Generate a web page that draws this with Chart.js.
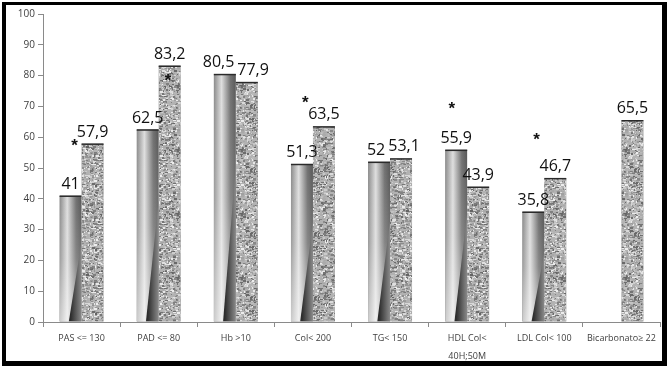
<!DOCTYPE html>
<html>
<head>
<meta charset="utf-8">
<script src="https://cdn.jsdelivr.net/npm/chart.js@4/dist/chart.umd.min.js"></script>
<style>
  body { margin: 0; background: #fff; }
  #wrap { position: relative; width: 668px; height: 366px; overflow: hidden; }
  #chart { position: absolute; left: 0; top: 0; }
  #frame {
    position: absolute; left: 2px; top: 2px; width: 665px; height: 364px;
    box-sizing: border-box; pointer-events: none;
    border-left: 4px solid #000; border-top: 3px solid #000;
    border-right: 5px solid #000; border-bottom: 5px solid #000;
  }
</style>
</head>
<body>
<div id="wrap">
  <canvas id="chart" width="668" height="366"></canvas>
  <div id="frame"></div>
</div>
<script>
// categorias del eje x
const categories = ["PAS <= 130", "PAD <= 80", "Hb >10", "Col< 200", "TG< 150", ["HDL Col<", "40H;50M"], "LDL Col< 100", "Bicarbonato\u2265 22"];
// serie 1 (degradado) y serie 2 (granito)
const serie1 = [41, 62.5, 80.5, 51.3, 52, 55.9, 35.8, null];
const serie2 = [57.9, 83.2, 77.9, 63.5, 53.1, 43.9, 46.7, 65.5];
// asteriscos: altura (en % del eje) y corrimiento (fraccion del ancho de categoria)
const asteriscoY = [58.8, 79.9, null, 72.7, null, 70.8, 60.7, null];
const asteriscoDx = [-0.09, 0.12, 0, -0.1, 0, -0.2, -0.1, 0];
const yTicks = [0, 10, 20, 30, 40, 50, 60, 70, 80, 90, 100];

// textura granito (pseudoaleatorio con semilla fija, solo para la textura)
let seed = 12345;
const rnd = () => (seed = (seed * 16807) % 2147483647) / 2147483647;
const tex = document.createElement('canvas');
tex.width = 64; tex.height = 64;
const tg = tex.getContext('2d');
tg.fillStyle = '#b2b2b2';
tg.fillRect(0, 0, 64, 64);
for (let i = 0; i < 1500; i++) {
  const v = Math.floor(100 + rnd() * 140);
  tg.fillStyle = `rgb(${v},${v},${v})`;
  tg.fillRect(Math.floor(rnd() * 64), Math.floor(rnd() * 64), 1 + Math.floor(rnd() * 3), 1 + Math.floor(rnd() * 2));
}

const ctxChart = document.getElementById('chart').getContext('2d');
const granito = ctxChart.createPattern(tex, 'repeat');

//Dibuja el degradado de la serie 1 sobre cada barra
const drawShaded = (ctx, x0, x1, top, bottom) => {
  const w = x1 - x0, h = bottom - top;
  let g = ctx.createLinearGradient(x0, 0, x1, 0);
  g.addColorStop(0, '#8a8a8a');
  g.addColorStop(0.35, '#dedede');
  g.addColorStop(0.75, '#727272');
  g.addColorStop(1, '#585858');
  ctx.fillStyle = g;
  ctx.fillRect(x0, top, w, h);
  // aclarado hacia abajo
  g = ctx.createLinearGradient(0, top, 0, bottom);
  g.addColorStop(0, 'rgba(255,255,255,0)');
  g.addColorStop(0.5, 'rgba(255,255,255,0.15)');
  g.addColorStop(1, 'rgba(255,255,255,0.55)');
  ctx.fillStyle = g;
  ctx.fillRect(x0, top, w, h);
  // cuña oscura abajo a la derecha
  ctx.beginPath();
  ctx.moveTo(x0 + 0.42 * w, bottom);
  ctx.lineTo(x1, bottom);
  ctx.lineTo(x1, bottom - 0.63 * h);
  ctx.closePath();
  g = ctx.createLinearGradient(x0 + 0.5 * w, 0, x1, 0);
  g.addColorStop(0, '#2c2c2c');
  g.addColorStop(1, '#8a8a8a');
  ctx.fillStyle = g;
  ctx.fill();
};

const texturas = {
  id: 'texturas',
  afterDatasetsDraw(chart) {
    const ctx = chart.ctx;
    chart.data.datasets.forEach((ds, di) => {
      chart.getDatasetMeta(di).data.forEach((bar, i) => {
        if (ds.data[i] == null) return;
        const x0 = bar.x - bar.width / 2, x1 = bar.x + bar.width / 2;
        ctx.save();
        ctx.beginPath();
        ctx.rect(x0, bar.y, bar.width, bar.base - bar.y);
        ctx.clip();
        if (di === 0) {
          drawShaded(ctx, x0, x1, bar.y, bar.base);
        } else {
          ctx.fillStyle = granito;
          ctx.fillRect(x0, bar.y, bar.width, bar.base - bar.y);
        }
        ctx.restore();
        // borde superior
        ctx.save();
        ctx.strokeStyle = '#2a2a2a';
        ctx.lineWidth = 1.5;
        ctx.beginPath();
        ctx.moveTo(x0, bar.y + 0.5);
        ctx.lineTo(x1, bar.y + 0.5);
        ctx.stroke();
        ctx.restore();
      });
    });

    // etiquetas de valores (se separan si se pisan)
    ctx.save();
    ctx.fillStyle = '#111';
    ctx.font = '16px "Open Sans"';
    ctx.textAlign = 'center';
    ctx.textBaseline = 'alphabetic';
    const m0 = chart.getDatasetMeta(0).data, m1 = chart.getDatasetMeta(1).data;
    categories.forEach((c, i) => {
      const t0 = serie1[i] == null ? null : String(serie1[i]).replace('.', ',');
      const t1 = serie2[i] == null ? null : String(serie2[i]).replace('.', ',');
      let x0 = t0 ? m0[i].x : 0, x1 = t1 ? m1[i].x : 0;
      if (t0 && t1 && Math.abs(m0[i].y - m1[i].y) < 16) {
        const need = (ctx.measureText(t0).width + ctx.measureText(t1).width) / 2 + 3;
        const over = need - (x1 - x0);
        if (over > 0) { x0 -= over / 2; x1 += over / 2; }
      }
      if (t0) ctx.fillText(t0, x0, m0[i].y - 7);
      if (t1) ctx.fillText(t1, x1, m1[i].y - 7);
    });

    // asteriscos
    const xs = chart.scales.x, ys = chart.scales.y;
    const catW = (xs.right - xs.left) / categories.length;
    ctx.font = 'bold 17px "Liberation Sans"';
    asteriscoY.forEach((v, i) => {
      if (v == null) return;
      const px = xs.getPixelForValue(i) + asteriscoDx[i] * catW;
      ctx.fillText('*', px, ys.getPixelForValue(v) + 10);
    });
    ctx.restore();
  }
};

const ejeColor = '#8a8a8a';

new Chart(ctxChart, {
  type: 'bar',
  data: {
    labels: categories,
    datasets: [
      { label: 'serie1', data: serie1, backgroundColor: '#999', borderWidth: 0 },
      { label: 'serie2', data: serie2, backgroundColor: '#aaa', borderWidth: 0 }
    ]
  },
  options: {
    responsive: false,
    animation: false,
    devicePixelRatio: 1,
    layout: { padding: { top: 14, right: 8, left: 0, bottom: 0 } },
    datasets: { bar: { categoryPercentage: 0.57, barPercentage: 1 } },
    plugins: { legend: { display: false }, tooltip: { enabled: false } },
    scales: {
      x: {
        grid: { drawOnChartArea: false, tickLength: 5, color: ejeColor },
        border: { color: ejeColor },
        ticks: {
          padding: 2, color: '#404040', maxRotation: 0, autoSkip: false,
          font: { family: 'Open Sans', size: 9, lineHeight: 2.0 }
        },
        afterFit(s) { s.height = 44; }
      },
      y: {
        min: 0, max: 100,
        afterBuildTicks(s) { s.ticks = yTicks.map(v => ({ value: v })); },
        grid: { drawOnChartArea: false, tickLength: 5, color: ejeColor },
        border: { color: ejeColor },
        ticks: { padding: 3, color: '#404040', font: { family: 'Open Sans', size: 10 } },
        afterFit(s) { s.width = 43; }
      }
    }
  },
  plugins: [texturas]
});
</script>
</body>
</html>
